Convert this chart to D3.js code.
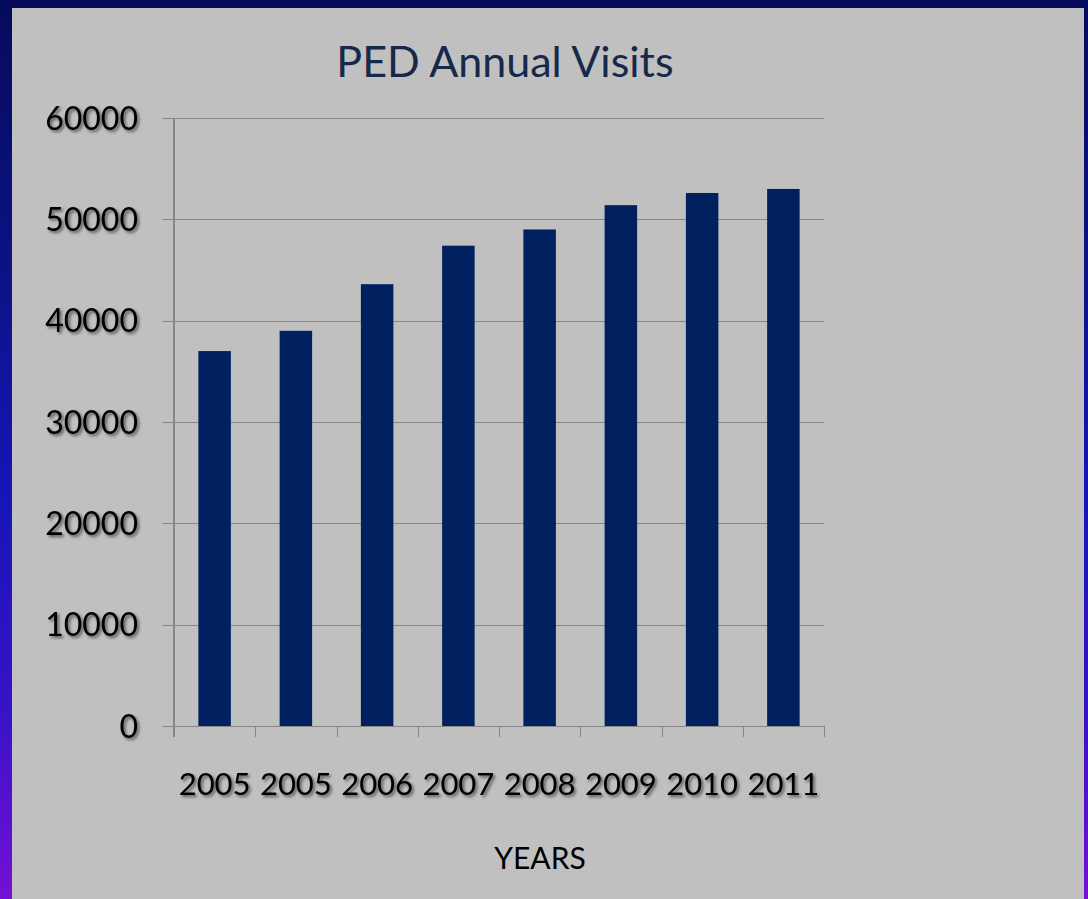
<!DOCTYPE html>
<html><head><meta charset="utf-8">
<script src="https://cdn.jsdelivr.net/npm/d3@7"></script>
<style>html,body{margin:0;padding:0;overflow:hidden;}</style>
</head><body>
<script>
const categories = ["2005","2005","2006","2007","2008","2009","2010","2011"];
const visits = [37000, 39000, 43600, 47400, 49000, 51400, 52600, 53000];
const yTicks = [0, 10000, 20000, 30000, 40000, 50000, 60000];
const title = "PED Annual Visits";
const xTitle = "YEARS";

(function(){
const W = 1088, H = 899;
const svg = d3.select("body").append("svg").attr("width", W).attr("height", H);
const defs = svg.append("defs");
const grad = defs.append("linearGradient").attr("id","bg").attr("x1",0).attr("y1",0).attr("x2",0).attr("y2",1);
[[0,"#060a5c"],[0.3,"#0b1384"],[0.55,"#1515b8"],[0.8,"#3a12c8"],[1,"#7510d6"]].forEach(([o,c])=>grad.append("stop").attr("offset",o).attr("stop-color",c));
const sh = defs.append("filter").attr("id","sh").attr("x","-20%").attr("y","-40%").attr("width","140%").attr("height","180%");
sh.append("feDropShadow").attr("dx",2).attr("dy",2).attr("stdDeviation",1.4).attr("flood-color","#000").attr("flood-opacity",0.55);

svg.append("rect").attr("width",W).attr("height",H).attr("fill","url(#bg)");
svg.append("rect").attr("x",12).attr("y",8).attr("width",1072).attr("height",H-8).attr("fill","#c0c0c0");

const pL = 174, pR = 824, pT = 118, pB = 726;
const x = d3.scaleBand().domain(d3.range(categories.length)).range([pL,pR]).paddingInner(0.6).paddingOuter(0.3);
const xb = d3.scaleBand().domain(d3.range(categories.length)).range([pL,pR]);
const y = d3.scaleLinear().domain([0,60000]).range([pB,pT]);

svg.append("g").selectAll("line").data(yTicks).join("line")
  .attr("x1",162).attr("x2",pR).attr("y1",d=>Math.round(y(d))+0.5).attr("y2",d=>Math.round(y(d))+0.5)
  .attr("stroke","#878787").attr("stroke-width",1);

svg.append("g").selectAll("rect").data(visits).join("rect")
  .attr("x",(d,i)=>x(i)).attr("width",x.bandwidth())
  .attr("y",d=>y(d)).attr("height",d=>pB-y(d))
  .attr("fill","#00205f");

svg.append("line").attr("x1",pL).attr("x2",pL).attr("y1",pT).attr("y2",pB+11)
  .attr("stroke","#878787").attr("stroke-width",2);
svg.append("g").selectAll("line").data(d3.range(1,categories.length+1)).join("line")
  .attr("x1",i=>Math.round(pL+i*xb.step())+0.5).attr("x2",i=>Math.round(pL+i*xb.step())+0.5)
  .attr("y1",pB).attr("y2",pB+11).attr("stroke","#878787").attr("stroke-width",1);

svg.append("g").selectAll("text").data(yTicks).join("text")
  .attr("x",138).attr("y",d=>y(d)).attr("dy","0.36em").attr("text-anchor","end")
  .attr("font-family","Lato, sans-serif").attr("font-size",32).attr("fill","#000")
  .attr("filter","url(#sh)").text(d=>d);

svg.append("g").selectAll("text").data(categories).join("text")
  .attr("x",(d,i)=>xb(i)+xb.bandwidth()/2).attr("y",795).attr("text-anchor","middle")
  .attr("font-family","Lato, sans-serif").attr("font-size",31).attr("fill","#000")
  .attr("filter","url(#sh)").text(d=>d);

svg.append("text").attr("x",505).attr("y",77).attr("text-anchor","middle")
  .attr("font-family","Lato, sans-serif").attr("font-size",43).attr("fill","#15294a").text(title);
svg.append("text").attr("x",540).attr("y",869).attr("text-anchor","middle")
  .attr("font-family","Lato, sans-serif").attr("font-size",30).attr("fill","#000").text(xTitle);
})();
</script>
</body></html>
